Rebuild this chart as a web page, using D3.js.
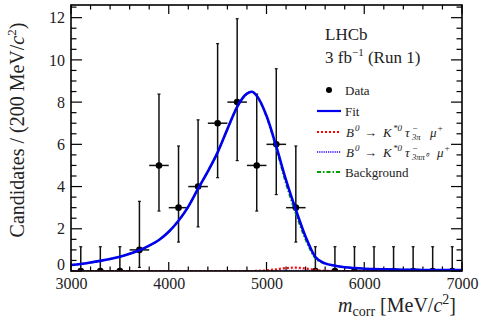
<!DOCTYPE html>
<html><head><meta charset="utf-8">
<script src="https://cdn.jsdelivr.net/npm/d3@7"></script>
<style>
html,body{margin:0;padding:0;background:#fff;}
svg{display:block;font-family:"Liberation Serif","Times New Roman",serif;}
</style></head>
<body><svg id="c" width="483" height="320"></svg>
<script>
// ---- data ----
const binCenters = [3100,3300,3500,3700,3900,4100,4300,4500,4700,4900,5100,5300,5500,5700,5900,6100,6300,6500,6700,6900];
const counts     = [0,0,0,1,5,3,4,7,8,5,6,3,0,0,0,0,0,0,0,0];
const errLow     = [0,0,0,0.17,2.84,1.37,2.09,4.42,5.23,2.84,3.62,1.37,0,0,0,0,0,0,0,0];
const errHigh    = [1.15,1.15,1.15,3.30,8.38,5.92,7.16,10.77,11.95,8.38,9.58,5.92,1.15,1.15,1.15,1.15,1.15,1.15,1.15,1.15];
const binHalfWidth = 100;

const massGrid = [3000,3100,3200,3300,3400,3500,3600,3700,3800,3900,4000,4100,4200,4300,4400,4500,4600,4700,4800,4850,4900,5000,5100,5200,5300,5400,5500,5600,5700,5800,5900,6000,6100,6200,6300,6400,6500,6600,6700,6800,6900,7000];
const fitTotal   = [0.28,0.33,0.40,0.48,0.57,0.68,0.82,0.98,1.20,1.47,1.86,2.38,3.05,3.90,4.72,5.62,6.72,7.78,8.40,8.49,8.30,7.35,5.90,4.30,2.90,1.62,0.66,0.36,0.25,0.18,0.14,0.11,0.09,0.08,0.07,0.06,0.06,0.05,0.05,0.05,0.04,0.04];
const sig3pi     = [0,0,0,0,0,0,0,0,0,0,0,0,0,0,0,0,0,0,0,0,0.005,0.03,0.08,0.14,0.16,0.12,0.05,0.01,0,0,0,0,0,0,0,0,0,0,0,0,0,0];
const sig3pipi0  = [0,0,0,0,0,0,0,0,0,0,0,0,0,0,0,0,0,0,0,0,0,0.005,0.01,0.02,0.02,0.015,0.005,0,0,0,0,0,0,0,0,0,0,0,0,0,0,0];
const background = [0.28,0.33,0.40,0.48,0.57,0.68,0.82,0.98,1.20,1.47,1.86,2.38,3.05,3.90,4.72,5.62,6.72,7.78,8.40,8.49,8.29,7.32,5.81,4.14,2.72,1.49,0.61,0.35,0.25,0.18,0.14,0.11,0.09,0.08,0.07,0.06,0.06,0.05,0.05,0.05,0.04,0.04];

const xTicks = [3000,4000,5000,6000,7000];
const yTicks = [0,2,4,6,8,10,12];
const legendLabels = ["Data","Fit","B0tau3pi","B0tau3pipi0","Background"];

// ---- layout ----
const svg = d3.select("#c");
const L = 71, R = 462, T = 5, B = 271;
const x = d3.scaleLinear().domain([3000,7000]).range([L,R]);
const y = d3.scaleLinear().domain([0,12.6]).range([B,T]);

svg.append("clipPath").attr("id","pc").append("rect")
  .attr("x",L).attr("y",T).attr("width",R-L).attr("height",B-T);

// ticks (ROOT style, inside, mirrored)
const gx = svg.append("g");
d3.range(3000,7001,200).forEach(v=>{
  const major = v%1000===0;
  const len = major?9:4.5;
  gx.append("line").attr("x1",x(v)).attr("x2",x(v)).attr("y1",B).attr("y2",B-len).attr("stroke","#000").attr("stroke-width",1.2);
  gx.append("line").attr("x1",x(v)).attr("x2",x(v)).attr("y1",T).attr("y2",T+len).attr("stroke","#000").attr("stroke-width",1.2);
});
d3.range(0,12.51,0.5).forEach(v=>{
  const major = Math.abs(v%2)<1e-9;
  const len = major?11:5.5;
  gx.append("line").attr("y1",y(v)).attr("y2",y(v)).attr("x1",L).attr("x2",L+len).attr("stroke","#000").attr("stroke-width",1.2);
  gx.append("line").attr("y1",y(v)).attr("y2",y(v)).attr("x1",R).attr("x2",R-len).attr("stroke","#000").attr("stroke-width",1.2);
});

// tick labels via axes (no lines)
const xAxis = d3.axisBottom(x).tickValues(xTicks).tickSize(0).tickPadding(7).tickFormat(d3.format("d"));
const xg = svg.append("g").attr("transform",`translate(0,${B})`).call(xAxis);
xg.select(".domain").remove();
xg.selectAll("text").attr("font-family","Liberation Serif").attr("font-size",16).attr("fill","#222");
const yAxis = d3.axisLeft(y).tickValues(yTicks).tickSize(0).tickPadding(6);
const yg = svg.append("g").attr("transform",`translate(${L},0)`).call(yAxis);
yg.select(".domain").remove();
yg.selectAll("text").attr("font-family","Liberation Serif").attr("font-size",16).attr("fill","#222")
  .attr("dy",(d)=> d===0 ? "-0.1em" : "0.32em");

// data
const dg = svg.append("g").attr("clip-path","url(#pc)");
binCenters.forEach((c,i)=>{
  const cx = x(c), cy = y(counts[i]);
  dg.append("line").attr("x1",cx).attr("x2",cx).attr("y1",y(errLow[i])).attr("y2",y(errHigh[i])).attr("stroke","#111").attr("stroke-width",1.5);
  dg.append("line").attr("x1",cx-1.5).attr("x2",cx+1.5).attr("y1",y(errHigh[i])).attr("y2",y(errHigh[i])).attr("stroke","#111").attr("stroke-width",1.2);
  if(counts[i]>0){
    dg.append("line").attr("x1",cx-1.5).attr("x2",cx+1.5).attr("y1",y(errLow[i])).attr("y2",y(errLow[i])).attr("stroke","#111").attr("stroke-width",1.2);
    dg.append("line").attr("x1",x(c-binHalfWidth)).attr("x2",x(c+binHalfWidth)).attr("y1",cy).attr("y2",cy).attr("stroke","#111").attr("stroke-width",1.5);
  }
  dg.append("circle").attr("cx",cx).attr("cy",cy).attr("r",3.3).attr("fill","#000");
});

// curves
const line = arr => d3.line().x((d,i)=>x(massGrid[i])).y(d=>y(d)).curve(d3.curveMonotoneX)(arr);
const cg = svg.append("g").attr("clip-path","url(#pc)");
cg.append("path").attr("d",line(sig3pipi0)).attr("fill","none").attr("stroke","#5b3fff").attr("stroke-width",1.8).attr("stroke-dasharray","1.2,1");
cg.append("path").attr("d",line(sig3pi)).attr("fill","none").attr("stroke","#ff0000").attr("stroke-width",2.2).attr("stroke-dasharray","2,2");
cg.append("path").attr("d",line(background)).attr("fill","none").attr("stroke","#00a000").attr("stroke-width",2).attr("stroke-dasharray","4,2,1.5,2");
cg.append("path").attr("d",line(fitTotal)).attr("fill","none").attr("stroke","#0000ee").attr("stroke-width",2.6);

// frame
svg.append("rect").attr("x",L).attr("y",T).attr("width",R-L).attr("height",B-T).attr("fill","none").attr("stroke","#000").attr("stroke-width",1.6);

// axis titles
const yl = svg.append("text").attr("transform",`translate(24,130) rotate(-90)`).attr("text-anchor","middle").attr("font-size",20).attr("fill","#222");
yl.append("tspan").text("Candidates / (200 MeV/");
yl.append("tspan").attr("font-style","italic").text("c");
yl.append("tspan").attr("font-size",13).attr("dy",-8).text("2");
yl.append("tspan").attr("dy",8).text(")");

const xl = svg.append("text").attr("x",456).attr("y",312).attr("text-anchor","end").attr("font-size",20).attr("fill","#222");
xl.append("tspan").attr("font-style","italic").text("m");
xl.append("tspan").attr("font-size",14).attr("dy",4).text("corr");
xl.append("tspan").attr("dy",-4).text(" [MeV/");
xl.append("tspan").attr("font-style","italic").text("c");
xl.append("tspan").attr("font-size",14).attr("dy",-8).text("2");
xl.append("tspan").attr("dy",8).text("]");

// LHCb label
svg.append("text").attr("x",325).attr("y",40).attr("font-size",17).attr("fill","#222").text("LHCb");
const lumi = svg.append("text").attr("x",325).attr("y",63).attr("font-size",17).attr("fill","#222");
lumi.append("tspan").text("3 fb");
lumi.append("tspan").attr("font-size",11).attr("dy",-7).text("\u22121");
lumi.append("tspan").attr("dy",7).text(" (Run 1)");

// legend
const lg = svg.append("g").attr("font-size",13).attr("fill","#222");
const rows = [90,111,132,152,172];
const tx = 345;
lg.append("circle").attr("cx",329).attr("cy",rows[0]).attr("r",3).attr("fill","#000");
lg.append("text").attr("x",tx).attr("y",rows[0]+4.5).text(legendLabels[0]);
lg.append("line").attr("x1",317).attr("x2",341).attr("y1",rows[1]).attr("y2",rows[1]).attr("stroke","#0000ee").attr("stroke-width",2.2);
lg.append("text").attr("x",tx).attr("y",rows[1]+4.5).text(legendLabels[1]);
lg.append("line").attr("x1",317).attr("x2",341).attr("y1",rows[2]).attr("y2",rows[2]).attr("stroke","#ff0000").attr("stroke-width",2).attr("stroke-dasharray","2,2");
lg.append("line").attr("x1",317).attr("x2",341).attr("y1",rows[3]).attr("y2",rows[3]).attr("stroke","#5b3fff").attr("stroke-width",1.8).attr("stroke-dasharray","1.2,1");
lg.append("line").attr("x1",317).attr("x2",341).attr("y1",rows[4]).attr("y2",rows[4]).attr("stroke","#00a000").attr("stroke-width",2).attr("stroke-dasharray","4,2,1.5,2");

function decay(row, sub, muX){
  const by = row+4.5;
  const t = lg.append("text").attr("y",by).attr("font-style","italic");
  t.append("tspan").attr("x",346).text("B");
  t.append("tspan").attr("font-size",9).attr("x",355).attr("y",by-6).text("0");
  t.append("tspan").attr("x",364).attr("y",by).attr("font-style","normal").text("\u2192");
  t.append("tspan").attr("x",383).text("K");
  t.append("tspan").attr("font-size",9).attr("x",393).attr("y",by-6).text("*0");
  t.append("tspan").attr("x",405).attr("y",by).text("\u03c4");
  t.append("tspan").attr("font-size",9).attr("x",412).attr("y",by-6).text("\u2212");
  t.append("tspan").attr("font-size",8.5).attr("x",412).attr("y",by+3).text(sub);
  t.append("tspan").attr("x",muX).attr("y",by).text("\u03bc");
  t.append("tspan").attr("font-size",9).attr("x",muX+7).attr("y",by-6).text("+");
}
decay(rows[2], "3\u03c0", 430);
decay(rows[3], "3\u03c0\u03c0\u2070", 437);
lg.append("text").attr("x",tx).attr("y",rows[4]+4.5).text(legendLabels[4]);
</script></body></html>
